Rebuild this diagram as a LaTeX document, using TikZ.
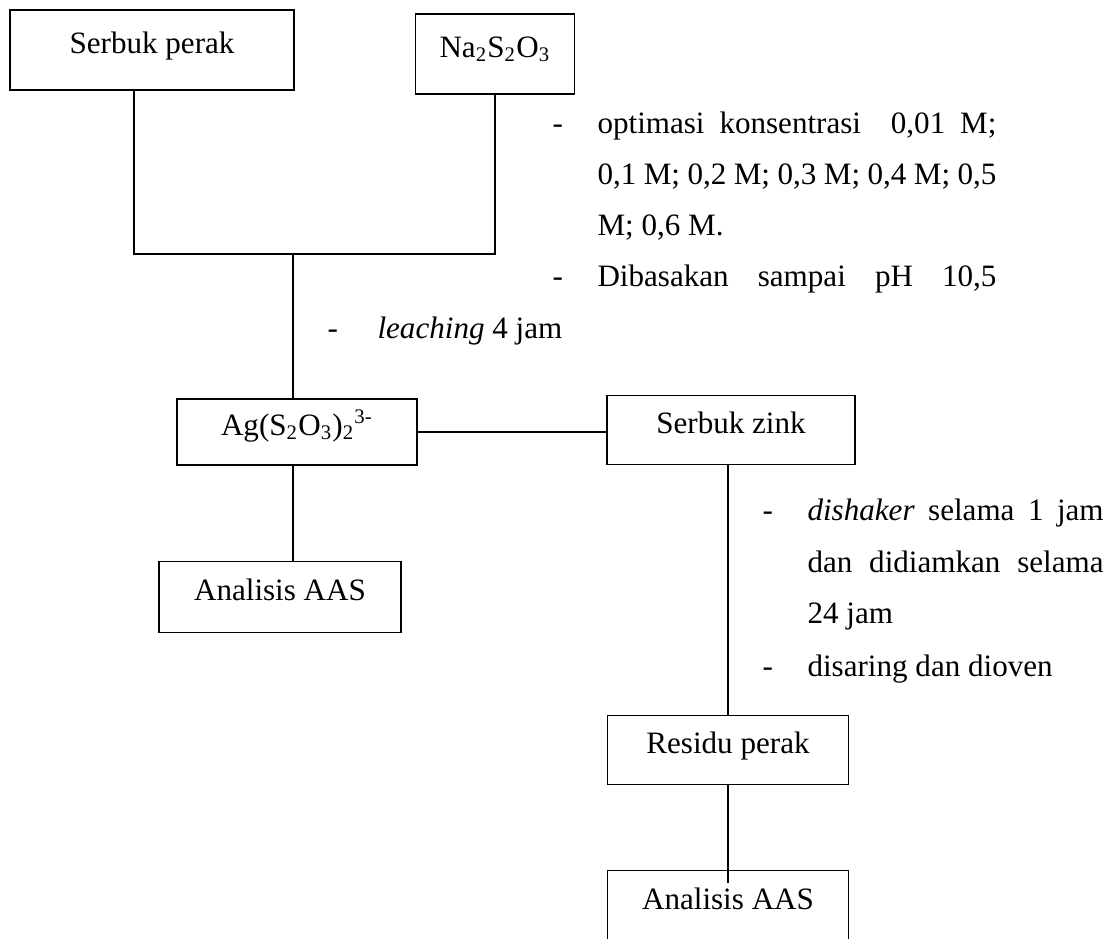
\documentclass[tikz,border=0pt]{standalone}
\usepackage{fontspec}
\setmainfont{Liberation Serif}
\usetikzlibrary{positioning}

\begin{document}
\begin{tikzpicture}[x=0.386pt, y=-0.386pt,
        every node/.style={font=\fontsize{12}{14}\selectfont},
        box/.style={draw, line width=0.7pt, inner sep=0pt, align=center,
                    text height=8.5pt, text depth=6pt},
        link/.style={line width=0.7pt},
        note/.style={anchor=base west, inner sep=0pt}]
        \useasboundingbox (0,0) rectangle (1114,938);
        % boxes
        \node[box, minimum width=109.6pt, minimum height=30.9pt] (sp) at (152,50) {Serbuk perak};
        \node[box, minimum width=61.4pt, minimum height=30.9pt] (na) at (495,54) {Na\textsubscript{2}S\textsubscript{2}O\textsubscript{3}};
        \node[box, minimum width=92.6pt, minimum height=25.5pt] (ag) at (297,432) {Ag(S\textsubscript{2}O\textsubscript{3})\textsubscript{2}\textsuperscript{3-}};
        \node[box, minimum width=95.7pt, minimum height=26.6pt] (zk) at (731,430) {Serbuk zink};
        \node[box, minimum width=93.4pt, minimum height=27.4pt] (aas1) at (280,597) {Analisis AAS};
        \node[box, minimum width=93pt, minimum height=26.6pt] (rp) at (728,750) {Residu perak};
        \node[box, minimum width=93pt, minimum height=27.4pt] (aas2) at (728,906) {Analisis AAS};
        % joins
        \coordinate (jl) at (134,254);
        \coordinate (jm) at (293,254);
        \coordinate (jr) at (na.south |- jl);
        \draw[link] (sp.south -| jl) -- (jl) -- (jr) -- (na.south);
        \draw[link] (jm) -- (ag.north -| jm);
        \draw[link] (ag.south -| jm) -- (aas1.north -| jm);
        \draw[link] (ag.east) -- (zk.west |- ag.east);
        \draw[link] (rp.north) -- (rp.north |- zk.south);
        \draw[link] (rp.south) -- ([yshift=-5pt]aas2.north);
        % notes
        \foreach \y/\t in {133/-, 286/-}
        \node[note] at (552,\y) {\t};
        \node[note] (n1) at (597,133) {\makebox[154pt][s]{optimasi konsentrasi \ 0,01 M;}};
        \node[note] (n2) at (597,184) {\makebox[154pt][s]{0,1 M; 0,2 M; 0,3 M; 0,4 M; 0,5}};
        \node[note] (n3) at (597,235) {M; 0,6 M.};
        \node[note] (n4) at (597,286) {\makebox[154pt][s]{Dibasakan sampai pH 10,5}};
        \node[note] at (327,338) {-};
        \node[note] (n5) at (377,338) {\textit{leaching} 4 jam};
        \foreach \y/\t in {520/-, 676/-}
        \node[note] at (762,\y) {\t};
        \node[note] (m1) at (807,520) {\makebox[114.3pt][s]{\textit{dishaker} selama 1 jam}};
        \node[note] (m2) at (807,572) {\makebox[114.3pt][s]{dan didiamkan selama}};
        \node[note] (m3) at (807,623) {24 jam};
        \node[note] (m4) at (807,676) {disaring dan dioven};
\end{tikzpicture}
\end{document}
